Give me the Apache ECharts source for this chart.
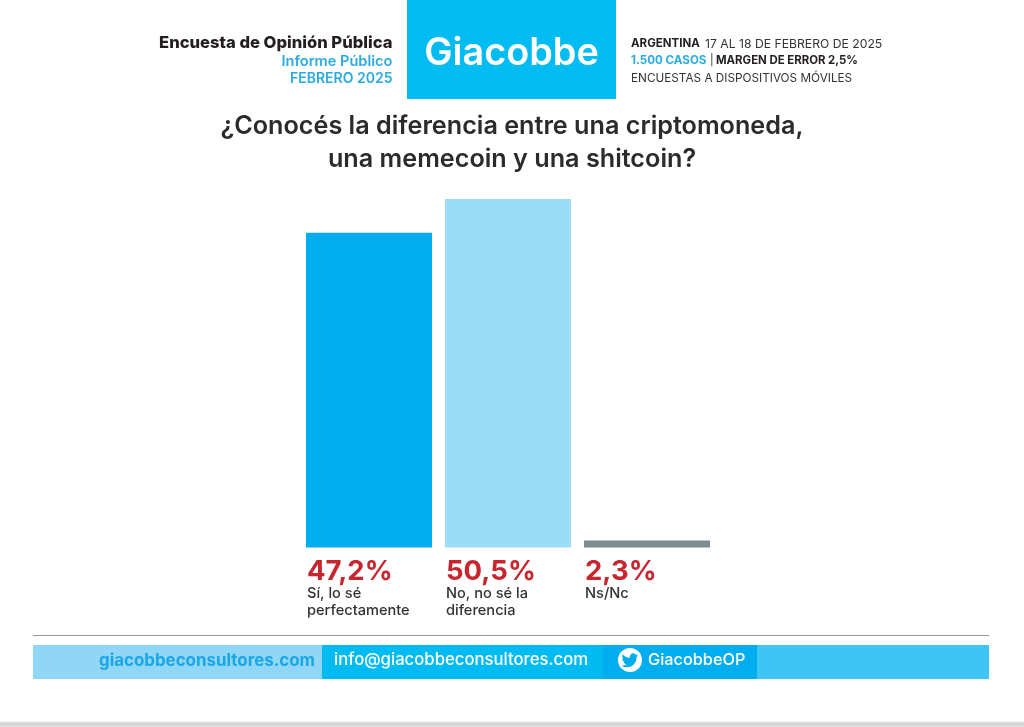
<!DOCTYPE html>
<html><head><meta charset="utf-8">
<style>html,body{margin:0;padding:0;background:#fff}#c{width:1024px;height:727px}</style>
<script src="https://cdn.jsdelivr.net/npm/echarts@6/dist/echarts.min.js"></script>
</head><body><div id="c"></div>
<script>
const categories = ['Sí, lo sé\nperfectamente', 'No, no sé la\ndiferencia', 'Ns/Nc'];
const printedValues = ['47,2%', '50,5%', '2,3%'];
// Bar lengths as drawn in the reference, on the scale of its tallest bar
const drawnLengths = [45.6, 50.5, 1.0];
const barColors = ['#00AEEF', '#9BDCF9', '#7C8C93'];
const font = 'Inter, Roboto, sans-serif';
const birdPath = 'M23.953 4.57 a10 10 0 0 1 -2.825 .775 a4.958 4.958 0 0 0 2.163 -2.723 c-.951 .555 -2.005 .959 -3.127 1.184 a4.92 4.92 0 0 0 -8.384 4.482 C7.69 8.095 4.067 6.13 1.64 3.162 a4.822 4.822 0 0 0 -.666 2.475 c0 1.71 .87 3.213 2.188 4.096 a4.904 4.904 0 0 1 -2.228 -.616 v.06 a4.923 4.923 0 0 0 3.946 4.827 a4.996 4.996 0 0 1 -2.212 .085 a4.936 4.936 0 0 0 4.604 3.417 a9.867 9.867 0 0 1 -6.102 2.105 c-.39 0 -.779 -.023 -1.17 -.067 a13.995 13.995 0 0 0 7.557 2.209 c9.053 0 13.998 -7.496 13.998 -13.985 c0 -.21 0 -.42 -.015 -.63 A9.935 9.935 0 0 0 24 4.59 z';
echarts.graphic.registerShape('bird', echarts.graphic.extendPath(birdPath, {}));

function txt(x, y, text, size, weight, fill, align) {
  return {type:'text', x, y, silent:true, style:{text, font:`${weight} ${size}px ${font}`, fill, textAlign:align||'left', textVerticalAlign:'middle'}};
}
function box(x, y, w, h, fill) {
  return {type:'rect', shape:{x,y,width:w,height:h}, style:{fill}, silent:true};
}
const chart = echarts.init(document.getElementById('c'), null, {renderer:'canvas'});
chart.setOption({
  animation:false,
  backgroundColor:'#ffffff',
  grid:{left:299.5, top:199, width:417, height:348.5},
  xAxis:{type:'category', data:categories, axisLine:{show:false}, axisTick:{show:false}, axisLabel:{show:false}},
  yAxis:{type:'value', min:0, max:50.5, show:false, splitLine:{show:false}},
  series:[{
    type:'bar', barWidth:126,
    data:drawnLengths.map((v,i)=>({value:v, itemStyle:{color:barColors[i]}})),
    label:{
      show:true, position:[1,'100%'], distance:0, align:'left', verticalAlign:'top', offset:[0,2],
      formatter:p=>`{v|${printedValues[p.dataIndex]}}\n{c|${categories[p.dataIndex].split('\n').join('}\n{c|')}}`,
      rich:{
        v:{fontFamily:font, fontSize:27.5, fontWeight:700, color:'#C8262F', lineHeight:36, verticalAlign:'bottom'},
        c:{fontFamily:font, fontSize:14.6, fontWeight:500, color:'#333333', lineHeight:17}
      }
    }
  }],
  graphic:{elements:[
    box(407,0,209,99,'#00BCF2'),
    txt(511.5,54,'Giacobbe',37.8,600,'#ffffff','center'),
    txt(392.5,43,'Encuesta de Opinión Pública',16.6,800,'#231F20','right'),
    txt(392.5,62,'Informe Público',14.6,600,'#29ABE2','right'),
    txt(392.5,79,'FEBRERO 2025',14,600,'#29ABE2','right'),
    txt(631,44,'ARGENTINA',11.5,700,'#231F20'),
    txt(705,44,'17 AL 18 DE FEBRERO DE 2025',12.2,400,'#333333'),
    txt(631,61,'1.500 CASOS',11.6,700,'#29ABE2'),
    txt(710,61,'|',11,400,'#333333'),
    txt(716,61,'MARGEN DE ERROR 2,5%',11.4,700,'#231F20'),
    txt(631,78,'ENCUESTAS A DISPOSITIVOS MÓVILES',11.75,400,'#333333'),
    txt(512,126,'¿Conocés la diferencia entre una criptomoneda,',25.2,600,'#2B2B2B','center'),
    txt(512,159,'una memecoin y una shitcoin?',25.2,600,'#2B2B2B','center'),
    box(33,635,956,1,'#9A9A9A'),
    box(33,645,289,34,'#8FD6F7'),
    box(322,645,281,34,'#00BBF2'),
    box(603,645,154,34,'#00AEEF'),
    box(757,645,232,34,'#3EC5F5'),
    txt(315,661,'giacobbeconsultores.com',16.9,700,'#1BA6E6','right'),
    txt(334,660,'info@giacobbeconsultores.com',16.7,500,'#ffffff'),
    {type:'circle', shape:{cx:630,cy:660,r:12}, style:{fill:'#ffffff'}, silent:true},
    {type:'bird', x:621.5, y:652, scaleX:0.7, scaleY:0.7, style:{fill:'#00AEEF'}, silent:true},
    txt(648,660,'GiacobbeOP',16.3,500,'#ffffff'),
    {type:'rect', shape:{x:0,y:721,width:1024,height:6}, silent:true, style:{fill:new echarts.graphic.LinearGradient(0,0,0,1,[{offset:0,color:'#FAFAFA'},{offset:0.4,color:'#D0D0D0'},{offset:1,color:'#E2E2E2'}])}}
  ]}
});
</script></body></html>
